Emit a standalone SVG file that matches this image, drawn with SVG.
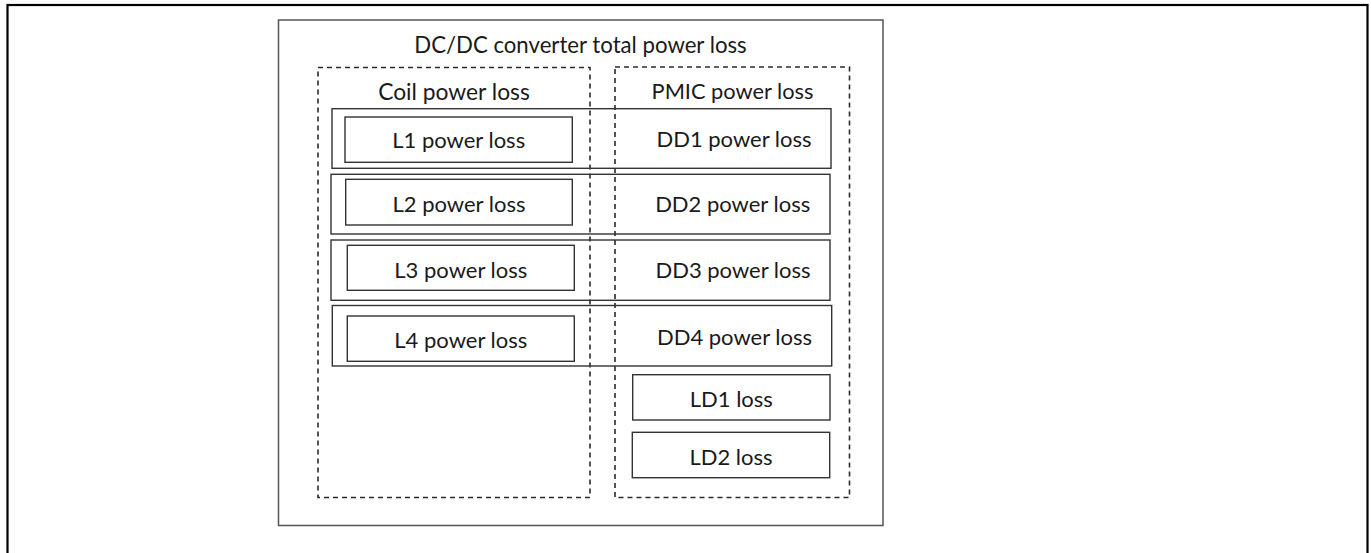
<svg xmlns="http://www.w3.org/2000/svg" width="1371" height="553" viewBox="0 0 1371 553">
<style>
text{font-family:Lato,"Noto Sans","Liberation Sans",sans-serif;fill:#1a1a1a;text-anchor:middle}
.t{font-size:22.2px}
.s{font-size:22px}
.box{fill:none;stroke:#333;stroke-width:1.4}
.dash{fill:none;stroke:#2a2a2a;stroke-width:1.6;stroke-dasharray:5 4}
</style>
<rect x="0" y="0" width="1371" height="553" fill="#fff"/>
<rect id="frame" x="7.5" y="5" width="1360" height="560" fill="none" stroke="#000" stroke-width="2.2"/>
<g id="total">
<rect x="278.5" y="20" width="604.5" height="505.5" fill="none" stroke="#555" stroke-width="1.5"/>
<text class="t" x="580.5" y="52.5">DC/DC converter total power loss</text>
</g>
<g id="coil">
<rect class="dash" x="318" y="67.5" width="272" height="430"/>
<text class="t" x="454" y="100" style="font-size:22.8px">Coil power loss</text>
</g>
<g id="pmic">
<rect class="dash" x="615" y="67" width="234.5" height="430.5"/>
<text class="t" x="732.5" y="98.5" style="font-size:21.8px">PMIC power loss</text>
</g>
<g id="row1"><rect class="box" x="332" y="108.7" width="499" height="59.6"/><text class="s" x="734" y="147">DD1 power loss</text></g>
<g id="row2"><rect class="box" x="331" y="174.3" width="499" height="59.7"/><text class="s" x="732.7" y="211.7">DD2 power loss</text></g>
<g id="row3"><rect class="box" x="331" y="240" width="499" height="60.3"/><text class="s" x="733" y="277.7">DD3 power loss</text></g>
<g id="row4"><rect class="box" x="332.3" y="305.5" width="499.4" height="60.5"/><text class="s" x="734.5" y="345">DD4 power loss</text></g>
<g id="L1"><rect class="box" x="345" y="117" width="227.3" height="45.3"/><text class="s" x="458.7" y="148">L1 power loss</text></g>
<g id="L2"><rect class="box" x="345.7" y="179.3" width="226.6" height="45.7"/><text class="s" x="459" y="211.7">L2 power loss</text></g>
<g id="L3"><rect class="box" x="347.3" y="245.3" width="227" height="45"/><text class="s" x="460.8" y="277.7">L3 power loss</text></g>
<g id="L4"><rect class="box" x="347.3" y="316" width="227" height="45.3"/><text class="s" x="460.8" y="347.7">L4 power loss</text></g>
<g id="LD1"><rect class="box" x="632.7" y="374.7" width="197.3" height="45.3"/><text class="s" x="731.3" y="406.7">LD1 loss</text></g>
<g id="LD2"><rect class="box" x="632.3" y="432.3" width="197.4" height="45.4"/><text class="s" x="731" y="464.7">LD2 loss</text></g>
<g id="connectors"></g>
</svg>
